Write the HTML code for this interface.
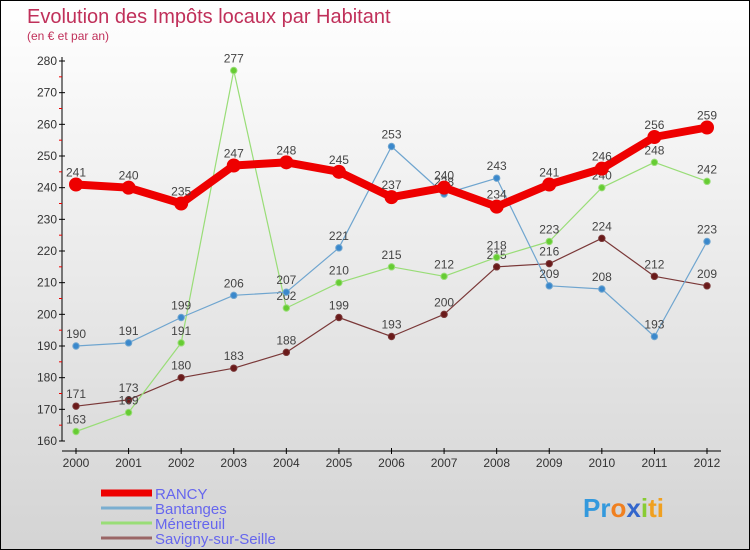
<!DOCTYPE html>
<html><head><meta charset="utf-8"><style>
body{margin:0}
#c{width:750px;height:550px;position:relative;box-sizing:border-box;border:1px solid #000;background:linear-gradient(#ffffff,#d4d4d4);font-family:"Liberation Sans",sans-serif;overflow:hidden}
</style></head><body>
<div id="c">
<svg id="s" width="750" height="550" style="position:absolute;left:0;top:0">
<text x="26" y="22" font-size="20" fill="#c0305a">Evolution des Impôts locaux par Habitant</text>
<text x="26" y="39" font-size="12" fill="#c0305a">(en € et par an)</text>
</svg>
</div>
<script>
const years=[2000,2001,2002,2003,2004,2005,2006,2007,2008,2009,2010,2011,2012];
const rancy=[241,240,235,247,248,245,237,240,234,241,246,256,259];
const bantanges=[190,191,199,206,207,221,253,238,243,209,208,193,223];
const menetreuil=[163,169,191,277,202,210,215,212,218,223,240,248,242];
const savigny=[171,173,180,183,188,199,193,200,215,216,224,212,209];
const yTicks=[160,170,180,190,200,210,220,230,240,250,260,270,280];
const NS="http://www.w3.org/2000/svg";
const svg=document.getElementById('s');
const X=i=>75+i*(706-75)/12;
const Y=v=>440-(v-160)*(380/120);
function el(t,a,p){const e=document.createElementNS(NS,t);for(const k in a)e.setAttribute(k,a[k]);(p||svg).appendChild(e);return e;}
let ax=el('line',{x1:61,y1:56,x2:61,y2:440,stroke:'#000'});


let xa=el('line',{x1:61,y1:450,x2:720,y2:450,stroke:'#000'});


yTicks.forEach(v=>{
  el('line',{x1:58,y1:Y(v),x2:64,y2:Y(v),stroke:'#000'});
  if(v<280) el('line',{x1:58,y1:Y(v+5),x2:61,y2:Y(v+5),stroke:'#e00'});
  const t=el('text',{x:56,y:Y(v)+4,'font-size':12,fill:'#333','text-anchor':'end'});
  t.textContent=v;
  
  
});
years.forEach((y,i)=>{
  el('line',{x1:X(i),y1:447,x2:X(i),y2:453,stroke:'#000'});
  const t=el('text',{x:X(i),y:466,'font-size':12,fill:'#333','text-anchor':'middle'});
  t.textContent=y;
  
  
});
function series(data,color,dot,w,r,name){
  const g=el('g',{});
  
  
  const p=el('polyline',{points:data.map((v,i)=>X(i)+','+Y(v)).join(' '),fill:'none',stroke:color,'stroke-width':w,'stroke-linejoin':'round'},g);
  
  
  data.forEach((v,i)=>{
    const c=el('circle',{cx:X(i),cy:Y(v),r:r,fill:dot,stroke:color,'stroke-width':1},g);
    
    
    const t=el('text',{x:X(i),y:Y(v)-8,'font-size':12,fill:'#444','text-anchor':'middle'},g);
    t.textContent=v;
    
    
  });
}
series(savigny,'#7a3838','#6a1a1a',1.2,3.2,'savigny');
series(menetreuil,'#99dd77','#66cc33',1.2,3.2,'menetreuil');
series(bantanges,'#6fa5cf','#3a88cc',1.2,3.2,'bantanges');
series(rancy,'#ee0000','#ee0000',8,6.5,'rancy');
const leg=[['RANCY','#ee0000',7],['Bantanges','#7aaed0',3],['Ménetreuil','#99dd77',3],['Savigny-sur-Seille','#9a6666',3]];
leg.forEach((l,i)=>{
  const y=492+i*15;
  const g=el('g',{});
  
  
  el('line',{x1:100,y1:y,x2:151,y2:y,stroke:l[1],'stroke-width':l[2]},g);
  const t=el('text',{x:154,y:y+6,'font-size':15,fill:'#6666ee'},g);
  t.textContent=l[0];
});
const lg=el('text',{x:582,y:516,'font-size':26,'font-weight':'bold',fill:'#f0a020'});
lg.innerHTML='<tspan fill="#3399dd">Pr</tspan><tspan fill="#f08020">o</tspan><tspan fill="#3366cc">x</tspan><tspan fill="#88cc33">i</tspan><tspan fill="#f0a020">ti</tspan>';


</script>
</body></html>
